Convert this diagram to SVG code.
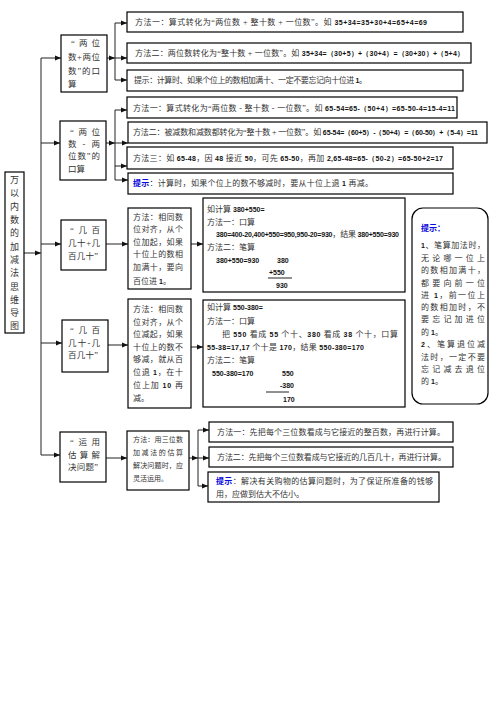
<svg xmlns="http://www.w3.org/2000/svg" width="496" height="702" viewBox="0 0 496 702">
<style>
.b{fill:#fff;stroke:#000;stroke-width:1.2}
.c{stroke:#222;stroke-width:1;fill:none}
.ca{stroke:#222;stroke-width:1;fill:none;marker-end:url(#a)}
.t{font-family:"Liberation Serif","Noto Sans CJK SC",serif;font-size:8px;fill:#333}
.s{font-size:7px}
.n{font-family:"Liberation Sans","DejaVu Sans",sans-serif;font-weight:bold;font-size:7px;fill:#111}
.h{fill:#0a0adc;font-weight:bold;font-family:"Noto Sans CJK SC",sans-serif}
.k{font-size:8.5px;fill:#333}
.ti{font-family:"Liberation Serif","Noto Sans CJK SC",serif;font-size:9px;fill:#333;text-anchor:middle}
</style>
<defs>
<marker id="a" markerWidth="6" markerHeight="6" refX="6" refY="3" orient="auto" markerUnits="userSpaceOnUse"><path d="M0,0.6 L6,3 L0,5.4z" fill="#111"/></marker>
</defs>
<rect width="496" height="702" fill="#fff"/>

<g id="connectors">
<path class="ca" d="M24,253 H41"/>
<path class="c" d="M41,58 V455"/>
<path class="ca" d="M41,58 H61"/>
<path class="ca" d="M41,143 H60"/>
<path class="ca" d="M41,244 H61"/>
<path class="ca" d="M41,343 H62"/>
<path class="ca" d="M41,455 H60"/>
<path class="ca" d="M107,58 H115"/>
<path class="c" d="M115,23 V80"/>
<path class="ca" d="M115,23 H127"/>
<path class="ca" d="M115,58 H127"/>
<path class="ca" d="M115,80 H127"/>
<path class="ca" d="M106,143 H115"/>
<path class="c" d="M115,110 V180"/>
<path class="ca" d="M115,110 H127"/>
<path class="ca" d="M115,143 H128"/>
<path class="ca" d="M115,166 H127"/>
<path class="ca" d="M115,180 H128"/>
<path class="ca" d="M106,244 H128"/>
<path class="ca" d="M191,244 H203"/>
<path class="ca" d="M108,345 H128"/>
<path class="ca" d="M191,347 H203"/>
<path class="ca" d="M106,458 H127"/>
<path class="ca" d="M189,458 H198"/>
<path class="c" d="M198,430 V486"/>
<path class="ca" d="M198,430 H209"/>
<path class="ca" d="M198,458 H209"/>
<path class="ca" d="M198,486 H208"/>
</g>

<g id="title">
<rect class="b" x="5" y="172" width="19" height="161"/>
<text class="ti" x="14.5" y="183">万</text>
<text class="ti" x="14.5" y="196">以</text>
<text class="ti" x="14.5" y="210">内</text>
<text class="ti" x="14.5" y="223">数</text>
<text class="ti" x="14.5" y="236">的</text>
<text class="ti" x="14.5" y="250">加</text>
<text class="ti" x="14.5" y="263">减</text>
<text class="ti" x="14.5" y="276">法</text>
<text class="ti" x="14.5" y="290">思</text>
<text class="ti" x="14.5" y="303">维</text>
<text class="ti" x="14.5" y="316">导</text>
<text class="ti" x="14.5" y="329">图</text>
</g>

<g id="n1">
<rect class="b" x="61" y="35" width="46" height="57"/>
<text class="t k" x="71" y="46" textLength="29" lengthAdjust="spacing">“ 两 位</text>
<text class="t k" x="68" y="60" textLength="32" lengthAdjust="spacing">数+两位</text>
<text class="t k" x="68" y="74" textLength="32" lengthAdjust="spacing">数”的口</text>
<text class="t k" x="68" y="87">算</text>
</g>
<g id="n1m1">
<rect class="b" x="127" y="12" width="336" height="20"/>
<text class="t" x="135" y="25" textLength="292" lengthAdjust="spacing">方法一：算式转化为“两位数 + 整十数 + 一位数”。如 <tspan class="n">35+34=35+30+4=65+4=69</tspan></text>
</g>
<g id="n1m2">
<rect class="b" x="127" y="43" width="344" height="20"/>
<text class="t" x="135" y="56" textLength="329" lengthAdjust="spacing">方法二：两位数转化为“整十数 + 一位数”。如 <tspan class="n">35+34=（30+5）+（30+4）=（30+30）+（5+4）</tspan></text>
</g>
<g id="n1h">
<rect class="b" x="127" y="70" width="336" height="21"/>
<text class="t" x="134" y="83" textLength="233" lengthAdjust="spacing">提示：计算时、如果个位上的数相加满十、一定不要忘记向十位进 <tspan class="n">1</tspan>。</text>
</g>

<g id="n2">
<rect class="b" x="60" y="121" width="46" height="59"/>
<text class="t k" x="70" y="135" textLength="30" lengthAdjust="spacing">“ 两 位</text>
<text class="t k" x="68" y="147" textLength="32" lengthAdjust="spacing">数 - 两</text>
<text class="t k" x="68" y="159" textLength="32" lengthAdjust="spacing">位数”的</text>
<text class="t k" x="68" y="172">口算</text>
</g>
<g id="n2m1">
<rect class="b" x="127" y="97" width="330" height="21"/>
<text class="t" x="133" y="111" textLength="322" lengthAdjust="spacing">方法一：算式转化为“两位数 - 整十数 - 一位数”。如 <tspan class="n">65-54=65-（50+4）=65-50-4=15-4=11</tspan></text>
</g>
<g id="n2m2">
<rect class="b" x="128" y="122" width="359" height="21"/>
<text class="t" x="133" y="135" textLength="345" lengthAdjust="spacing">方法二：被减数和减数都转化为“整十数 + 一位数”。如 <tspan class="n">65-54=（60+5）-（50+4）=（60-50）+（5-4）=11</tspan></text>
</g>
<g id="n2m3">
<rect class="b" x="127" y="147" width="326" height="22"/>
<text class="t" x="133" y="161" textLength="310" lengthAdjust="spacing">方法三：如 <tspan class="n">65-48</tspan>，因 <tspan class="n">48</tspan> 接近 <tspan class="n">50</tspan>，可先 <tspan class="n">65-50</tspan>，再加 <tspan class="n">2,65-48=65-（50-2）=65-50+2=17</tspan></text>
</g>
<g id="n2h">
<rect class="b" x="128" y="173" width="325" height="21"/>
<text class="t" x="133" y="186" textLength="240" lengthAdjust="spacing"><tspan class="h">提示</tspan>：计算时，如果个位上的数不够减时，要从十位上退 <tspan class="n">1</tspan> 再减。</text>
</g>

<g id="n3">
<rect class="b" x="61" y="220" width="45" height="50"/>
<text class="t k" x="70" y="233" textLength="30" lengthAdjust="spacing">“ 几 百</text>
<text class="t k" x="68" y="246" textLength="32" lengthAdjust="spacing">几十+几</text>
<text class="t k" x="68" y="259" textLength="30" lengthAdjust="spacing">百几十”</text>
</g>
<g id="n3m">
<rect class="b" x="128" y="208" width="63" height="81"/>
<text class="t" x="133" y="220" textLength="50" lengthAdjust="spacing">方法：相同数</text>
<text class="t" x="133" y="232" textLength="50" lengthAdjust="spacing">位对齐，从个</text>
<text class="t" x="133" y="245" textLength="50" lengthAdjust="spacing">位加起，如果</text>
<text class="t" x="133" y="257" textLength="50" lengthAdjust="spacing">十位上的数相</text>
<text class="t" x="133" y="270" textLength="50" lengthAdjust="spacing">加满十，要向</text>
<text class="t" x="133" y="284">百位进 <tspan class="n">1</tspan>。</text>
</g>
<g id="n3e">
<rect class="b" x="203" y="198" width="202" height="94"/>
<text class="t" x="207" y="212">如计算 <tspan class="n">380+550=</tspan></text>
<text class="t" x="207" y="225">方法一：口算</text>
<text class="t" x="216" y="237" textLength="183" lengthAdjust="spacing"><tspan class="n">380=400-20,400+550=950,950-20=930</tspan>，结果 <tspan class="n">380+550=930</tspan></text>
<text class="t" x="207" y="250">方法二：笔算</text>
<text class="n" x="216" y="263">380+550=930</text>
<text class="n" x="277" y="263">380</text>
<text class="n" x="269" y="275">+550</text>
<path class="c" d="M268,278 H292"/>
<text class="n" x="276" y="288">930</text>
</g>

<g id="n4">
<rect class="b" x="62" y="320" width="46" height="52"/>
<text class="t k" x="70" y="333" textLength="30" lengthAdjust="spacing">“ 几 百</text>
<text class="t k" x="68" y="346" textLength="32" lengthAdjust="spacing">几十-几</text>
<text class="t k" x="68" y="358" textLength="30" lengthAdjust="spacing">百几十”</text>
</g>
<g id="n4m">
<rect class="b" x="128" y="299" width="63" height="109"/>
<text class="t" x="133" y="312" textLength="50" lengthAdjust="spacing">方法：相同数</text>
<text class="t" x="133" y="325" textLength="50" lengthAdjust="spacing">位对齐，从个</text>
<text class="t" x="133" y="337" textLength="50" lengthAdjust="spacing">位减起，如果</text>
<text class="t" x="133" y="350" textLength="50" lengthAdjust="spacing">十位上的数不</text>
<text class="t" x="133" y="362" textLength="50" lengthAdjust="spacing">够减，就从百</text>
<text class="t" x="133" y="375" textLength="50" lengthAdjust="spacing">位退 <tspan class="n">1</tspan>，在十</text>
<text class="t" x="133" y="388" textLength="50" lengthAdjust="spacing">位上加 <tspan class="n">10</tspan> 再</text>
<text class="t" x="133" y="401">减。</text>
</g>
<g id="n4e">
<rect class="b" x="203" y="300" width="202" height="107"/>
<text class="t" x="207" y="310">如计算 <tspan class="n">550-380=</tspan></text>
<text class="t" x="207" y="324">方法一：口算</text>
<text class="t" x="222" y="337" textLength="176" lengthAdjust="spacing">把 <tspan class="n">550</tspan> 看成 <tspan class="n">55</tspan> 个十、<tspan class="n">380</tspan> 看成 <tspan class="n">38</tspan> 个十，口算</text>
<text class="t" x="207" y="350" textLength="157" lengthAdjust="spacing"><tspan class="n">55-38=17,17</tspan> 个十是 <tspan class="n">170</tspan>，结果 <tspan class="n">550-380=170</tspan></text>
<text class="t" x="207" y="363">方法二：笔算</text>
<text class="n" x="212" y="376">550-380=170</text>
<text class="n" x="282" y="376">550</text>
<text class="n" x="280" y="388">-380</text>
<path class="c" d="M266,392 H289"/>
<text class="n" x="283" y="402">170</text>
</g>

<g id="tip">
<rect class="b" x="412" y="208" width="76" height="196" rx="11" ry="11"/>
<text class="t h" x="421" y="231" font-size="8.5">提示：</text>
<text class="t" x="421" y="248" textLength="64" lengthAdjust="spacing"><tspan class="n">1</tspan>、笔算加法时，</text>
<text class="t" x="421" y="261" textLength="64" lengthAdjust="spacing">无论哪一位上</text>
<text class="t" x="421" y="273" textLength="64" lengthAdjust="spacing">的数相加满十，</text>
<text class="t" x="421" y="286" textLength="64" lengthAdjust="spacing">都要向前一位</text>
<text class="t" x="421" y="298" textLength="64" lengthAdjust="spacing">进 <tspan class="n">1</tspan>，前一位上</text>
<text class="t" x="421" y="310" textLength="64" lengthAdjust="spacing">的数相加时，不</text>
<text class="t" x="421" y="322" textLength="64" lengthAdjust="spacing">要忘记加进位</text>
<text class="t" x="421" y="335">的 <tspan class="n">1</tspan>。</text>
<text class="t" x="421" y="347" textLength="64" lengthAdjust="spacing"><tspan class="n">2</tspan>、笔算退位减</text>
<text class="t" x="421" y="360" textLength="64" lengthAdjust="spacing">法时，一定不要</text>
<text class="t" x="421" y="372" textLength="64" lengthAdjust="spacing">忘记减去退位</text>
<text class="t" x="421" y="384">的 <tspan class="n">1</tspan>。</text>
</g>

<g id="n5">
<rect class="b" x="60" y="432" width="46" height="50"/>
<text class="t k" x="70" y="445" textLength="30" lengthAdjust="spacing">“ 运 用</text>
<text class="t k" x="68" y="458" textLength="32" lengthAdjust="spacing">估 算 解</text>
<text class="t k" x="68" y="470" textLength="30" lengthAdjust="spacing">决问题”</text>
</g>
<g id="n5m">
<rect class="b" x="127" y="431" width="62" height="59"/>
<text class="t s" x="133" y="442" textLength="50" lengthAdjust="spacing">方法：用三位数</text>
<text class="t s" x="133" y="455" textLength="50" lengthAdjust="spacing">加减法的估算</text>
<text class="t s" x="133" y="468" textLength="50" lengthAdjust="spacing">解决问题时，应</text>
<text class="t s" x="133" y="481">灵活运用。</text>
</g>
<g id="n5m1">
<rect class="b" x="209" y="422" width="244" height="20"/>
<text class="t" x="217" y="435" textLength="228" lengthAdjust="spacing">方法一：先把每个三位数看成与它接近的整百数，再进行计算。</text>
</g>
<g id="n5m2">
<rect class="b" x="209" y="447" width="244" height="20"/>
<text class="t" x="217" y="460" textLength="229" lengthAdjust="spacing">方法二：先把每个三位数看成与它接近的几百几十，再进行计算。</text>
</g>
<g id="n5h">
<rect class="b" x="208" y="472" width="231" height="30"/>
<text class="t" x="216" y="484" textLength="217" lengthAdjust="spacing"><tspan class="h">提示</tspan>：解决有关购物的估算问题时，为了保证所准备的钱够</text>
<text class="t" x="216" y="497">用，应做到估大不估小。</text>
</g>
</svg>
